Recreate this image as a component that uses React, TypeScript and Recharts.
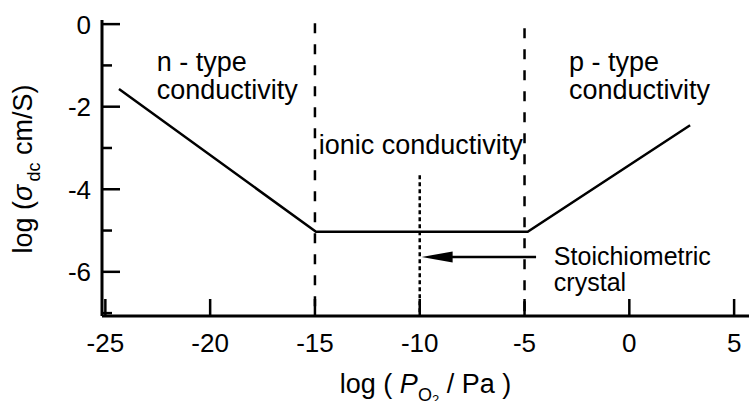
import React from 'react';
import { LineChart, Line, XAxis, YAxis, ReferenceLine, ReferenceDot } from 'recharts';

// log(P_O2) axis ticks and conductivity axis ticks
const xTicks = [-25, -20, -15, -10, -5, 0, 5];
const yTicks = [0, -1, -2, -3, -4, -5, -6, -7];
const yLabelled = [0, -2, -4, -6];

// Conductivity vs oxygen partial pressure (break points of the curve)
const logPO2 = [-24.35, -14.95, -4.85, 2.9];
const logSigma = [-1.57, -5.03, -5.03, -2.45];

// Region boundaries (dashed) and the stoichiometric point (dotted)
const boundaryX = [-15, -5];
const boundaryTop = [0.02, -0.1];
const stoichX = -10;
const stoichTop = -3.66;
const arrowStartX = -4.45;
const arrowY = -5.64;

const X_DOMAIN: [number, number] = [-25.16, 5.71];
const Y_DOMAIN: [number, number] = [-7.07, 0.1];

const data = logPO2.map((x, i) => ({ x, y: logSigma[i] }));

const FONT = '"Liberation Sans", Arial, Helvetica, sans-serif';
const TEXT_SIZE = 27;
const TICK_SIZE = 26;

// annotation text, anchored at start of the first line (data coords)
const notes = [
  { x: -22.55, y: -1.13, lines: ['n - type', 'conductivity'] },
  { x: -2.88, y: -1.13, lines: ['p - type', 'conductivity'] },
  { x: -14.82, y: -3.15, lines: ['ionic conductivity'] },
  { x: -3.6, y: -5.84, lines: ['Stoichiometric', 'crystal'], lineHeight: 26, size: 25 },
];

const XTick = (props: any) => {
  const { x, y, payload } = props;
  return (
    <g>
      <line x1={x} x2={x} y1={y} y2={y - 17} stroke="#000" strokeWidth={2.5} />
      <text x={x} y={y + 36} textAnchor="middle" fontSize={TICK_SIZE} fill="#000" fontFamily={FONT}>
        {payload.value}
      </text>
    </g>
  );
};

const YTick = (props: any) => {
  const { x, y, payload } = props;
  const major = yLabelled.includes(payload.value);
  return (
    <g>
      <line x1={x} x2={x + (major ? 18 : 10)} y1={y} y2={y} stroke="#000" strokeWidth={2.5} />
      {major && (
        <text x={x - 11} y={y + 9.5} textAnchor="end" fontSize={TICK_SIZE} fill="#000" fontFamily={FONT}>
          {payload.value}
        </text>
      )}
    </g>
  );
};

const XTitle = (props: any) => {
  const { viewBox } = props;
  const cx = viewBox.x + viewBox.width / 2;
  return (
    <text x={cx} y={392.5} textAnchor="middle" fontSize={TEXT_SIZE} fill="#000" fontFamily={FONT}>
      log (&#160;
      <tspan fontStyle="italic">P</tspan>
      <tspan fontSize={18} dy={8}>O</tspan>
      <tspan fontSize={13} dy={3}>2</tspan>
      <tspan dy={-11}>&#160;/ Pa )</tspan>
    </text>
  );
};

const YTitle = () => (
  <text
    x={32}
    y={169}
    transform="rotate(-90, 32, 169)"
    textAnchor="middle"
    fontSize={TEXT_SIZE}
    fill="#000"
    fontFamily={FONT}
  >
    log (<tspan fontStyle="italic">σ</tspan>
    <tspan fontSize={18} dx={3} dy={8}>dc</tspan>
    <tspan dy={-8}>&#160;cm/S)</tspan>
  </text>
);

const noteLabel = (lines: string[], lineHeight = 28.3, size = TEXT_SIZE) => (props: any) => {
  const { viewBox } = props;
  return (
    <text x={viewBox.x} y={viewBox.y} fontSize={size} fill="#000" fontFamily={FONT}>
      {lines.map((t, i) => (
        <tspan key={i} x={viewBox.x} dy={i === 0 ? 0 : lineHeight}>
          {t}
        </tspan>
      ))}
    </text>
  );
};

// horizontal arrow pointing at the stoichiometric line
const arrowShape = (props: any) => {
  const { x1, y1, x2, y2 } = props;
  const head = 31;
  return (
    <g>
      <line x1={x1} y1={y1} x2={x2 + head - 2} y2={y2} stroke="#000" strokeWidth={2.5} />
      <polygon points={`${x2},${y2} ${x2 + head},${y2 - 5.5} ${x2 + head},${y2 + 5.5}`} fill="#000" />
    </g>
  );
};

export default function App() {
  return (
    <div style={{ position: 'absolute', left: 0, top: 0, width: 749, height: 401, background: '#fff', fontFamily: FONT }}>
      <LineChart width={749} height={401} data={data} margin={{ top: 20, right: 0, bottom: 0, left: 0 }}>
        <XAxis
          xAxisId="top"
          orientation="top"
          type="number"
          domain={X_DOMAIN}
          allowDataOverflow
          height={0}
          tick={false}
          tickLine={false}
          axisLine={{ stroke: '#000', strokeWidth: 3 }}
        />
        <XAxis
          dataKey="x"
          type="number"
          domain={X_DOMAIN}
          allowDataOverflow
          ticks={xTicks}
          interval={0}
          height={85}
          tickSize={0}
          tickMargin={0}
          tick={<XTick />}
          axisLine={{ stroke: '#000', strokeWidth: 3 }}
          label={{ content: <XTitle /> }}
        />
        <YAxis
          type="number"
          domain={Y_DOMAIN}
          allowDataOverflow
          ticks={yTicks}
          interval={0}
          width={102}
          tickSize={0}
          tickMargin={0}
          tick={<YTick />}
          axisLine={{ stroke: '#000', strokeWidth: 3 }}
          label={{ content: <YTitle /> }}
        />
        {boundaryX.map((bx, i) => (
          <ReferenceLine
            key={bx}
            segment={[{ x: bx, y: boundaryTop[i] }, { x: bx, y: Y_DOMAIN[0] }]}
            stroke="#000"
            strokeWidth={2.5}
            strokeDasharray="10 11"
          />
        ))}
        <ReferenceLine
          segment={[{ x: stoichX, y: stoichTop }, { x: stoichX, y: Y_DOMAIN[0] }]}
          stroke="#000"
          strokeWidth={2.5}
          strokeDasharray="4 3"
        />
        <ReferenceLine
          segment={[{ x: arrowStartX, y: arrowY }, { x: stoichX + 0.09, y: arrowY }]}
          shape={arrowShape}
        />
        <Line
          type="linear"
          dataKey="y"
          stroke="#000"
          strokeWidth={2.5}
          dot={false}
          activeDot={false}
          isAnimationActive={false}
        />
        {notes.map((n, i) => (
          <ReferenceDot
            key={i}
            x={n.x}
            y={n.y}
            r={0}
            fill="none"
            stroke="none"
            label={noteLabel(n.lines, n.lineHeight, n.size)}
          />
        ))}
      </LineChart>
    </div>
  );
}
